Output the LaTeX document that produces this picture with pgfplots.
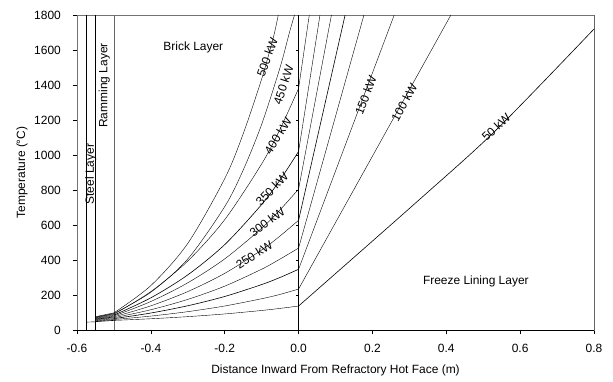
\documentclass[border=0pt]{standalone}
\usepackage{fontspec}
\setmainfont{Liberation Sans}
\usepackage{pgfplots}
\pgfplotsset{compat=1.18}
\begin{document}
\fontsize{12}{14}\selectfont
\begin{tikzpicture}[x=1bp,y=1bp]
\useasboundingbox (-77,-51) rectangle (536,330);
\begin{axis}[
  scale only axis, width=517bp, height=315bp, at={(0,0)}, anchor=south west,
  xmin=-0.6, xmax=0.8, ymin=0, ymax=1800,
  xtick={-0.6,-0.4,-0.2,0,0.2,0.4,0.6,0.8},
  ytick={0,200,400,600,800,1000,1200,1400,1600,1800},
  xticklabel style={yshift=-6bp, /pgf/number format/.cd, fixed, fixed zerofill, precision=1},
  yticklabel style={xshift=-8bp, /pgf/number format/.cd, fixed, precision=0, 1000 sep={}},
  /pgf/number format/assume math mode=true,
  tick align=outside, major tick length=4bp,
  xtick pos=bottom, ytick pos=left,
  tick style={black, line width=0.6bp},
  axis line style={black!55, line width=0.6bp},
  xlabel={Distance Inward From Refractory Hot Face (m)},
  ylabel={Temperature (°C)},
  xlabel style={at={(axis description cs:0.5,-0.127)}, anchor=center},
  ylabel style={at={(axis description cs:-0.1064,0.5)}, anchor=center},
  cycle list={{black, solid, mark=none, line width=0.6bp}},
]
% axis lines bottom/right black
\addplot coordinates {(-0.6,0) (0.8,0)};
\addplot coordinates {(0.8,0) (0.8,1800)};
% layer boundaries
\addplot coordinates {(-0.575,0) (-0.575,1800)};
\addplot coordinates {(-0.55,0) (-0.55,1800)};
\addplot[black!60, line width=0.6bp] coordinates {(-0.5,0) (-0.5,1800)};
\addplot coordinates {(0,0) (0,1800)};
% steel layer
\addplot coordinates {(-0.575,45) (-0.55,47)};
% ramming layer
\addplot coordinates {(-0.55,48) (-0.5,55)};
\addplot coordinates {(-0.55,51) (-0.5,60)};
\addplot coordinates {(-0.55,54) (-0.5,65)};
\addplot coordinates {(-0.55,58) (-0.5,70)};
\addplot coordinates {(-0.55,61) (-0.5,75)};
\addplot coordinates {(-0.55,64) (-0.5,80)};
\addplot coordinates {(-0.55,67) (-0.5,85)};
\addplot coordinates {(-0.55,70) (-0.5,90)};
\addplot coordinates {(-0.55,73) (-0.5,94)};
\addplot coordinates {(-0.55,76) (-0.5,98)};
% brick layer
\addplot+[smooth] coordinates {(-0.5,55)(-0.4,64.3)(-0.3,76.4)(-0.2,91.8)(-0.1,111.6)(-0.05,123.5)(0,137)};
\addplot+[smooth] coordinates {(-0.5,60)(-0.4,79.6)(-0.3,104.9)(-0.2,137.2)(-0.1,178.7)(-0.05,203.6)(0,234)};
\addplot+[smooth] coordinates {(-0.5,65)(-0.4,97.1)(-0.3,138.6)(-0.2,191.6)(-0.1,259.6)(-0.05,300.5)(0,347)};
\addplot+[smooth] coordinates {(-0.5,70)(-0.4,115.8)(-0.3,174.9)(-0.2,250.5)(-0.1,347.4)(-0.05,405.7)(0,468)};
\addplot+[smooth] coordinates {(-0.5,75)(-0.4,138.2)(-0.3,219.6)(-0.2,323.7)(-0.1,457.3)(-0.05,537.6)(0,627)};
\addplot+[smooth] coordinates {(-0.5,80)(-0.4,162.9)(-0.3,269.7)(-0.2,406.4)(-0.1,581.6)(-0.05,687)(0,805)};
\addplot+[smooth] coordinates {(-0.5,85)(-0.4,184)(-0.3,315)(-0.2,488)(-0.1,717)(-0.05,858)(0,1020)};
\addplot+[smooth] coordinates {(-0.5,90)(-0.4,219.6)(-0.3,394.4)(-0.2,630.5)(-0.1,949)(-0.05,1148.4)(0,1380)};
\addplot+[smooth] coordinates {(-0.5,94)(-0.4,216)(-0.3,406)(-0.2,705)(-0.15,914)(-0.1,1175)(-0.05,1501)(-0.025,1698)(-0.011,1800)};
\addplot+[smooth] coordinates {(-0.5,98)(-0.4,254)(-0.3,495)(-0.2,865)(-0.15,1121)(-0.1,1434)(-0.08,1581)(-0.065,1700)(-0.055,1800)};
% freeze lining layer
\addplot+[smooth] coordinates {(0,137)(0.326,743)(0.535,1143)(0.8,1720)};
\addplot coordinates {(0,234)(0.4125,1800)};
\addplot coordinates {(0,347)(0.259,1800)};
\addplot coordinates {(0,468)(0.177,1800)};
\addplot coordinates {(0,627)(0.126,1800)};
\addplot coordinates {(0,805)(0.089,1800)};
\addplot coordinates {(0,1020)(0.058,1800)};
\addplot coordinates {(0,1380)(0.029,1800)};
% labels
\node[rotate=70, inner sep=0] at (axis cs:-0.085,1560) {500 kW};
\node[rotate=72, inner sep=0] at (axis cs:-0.041,1400) {450 kW};
\node[rotate=58, inner sep=0] at (axis cs:-0.056,1110) {400 kW};
\node[rotate=46, inner sep=0] at (axis cs:-0.072,805) {350 kW};
\node[rotate=37, inner sep=0] at (axis cs:-0.085,615) {300 kW};
\node[rotate=32, inner sep=0] at (axis cs:-0.12,430) {250 kW};
\node[rotate=69, inner sep=0] at (axis cs:0.182,1343) {150 kW};
\node[rotate=61, inner sep=0] at (axis cs:0.286,1300) {100 kW};
\node[rotate=43, inner sep=0] at (axis cs:0.535,1160) {50 kW};
\node at (axis cs:-0.285,1617) {Brick Layer};
\node at (axis cs:0.48,280) {Freeze Lining Layer};
\node[rotate=90] at (axis cs:-0.526,1397) {Ramming Layer};
\node[rotate=90] at (axis cs:-0.563,891) {Steel Layer};
\end{axis}
% tick marks on the hot-face line (x = 0)
\begin{axis}[
  scale only axis, width=221.57bp, height=315bp, at={(0,0)}, anchor=south west,
  xmin=-0.6, xmax=0, ymin=0, ymax=1800,
  axis x line=none, axis y line*=right,
  ytick={200,400,600,800,1000,1200,1400,1600}, yticklabels={},
  tick align=inside, major tick length=3bp,
  tick style={black, line width=0.6bp},
  axis line style={black, line width=0.6bp},
]
\addplot[draw=none] coordinates {(-0.3,900)};
\end{axis}
\end{tikzpicture}
\end{document}
